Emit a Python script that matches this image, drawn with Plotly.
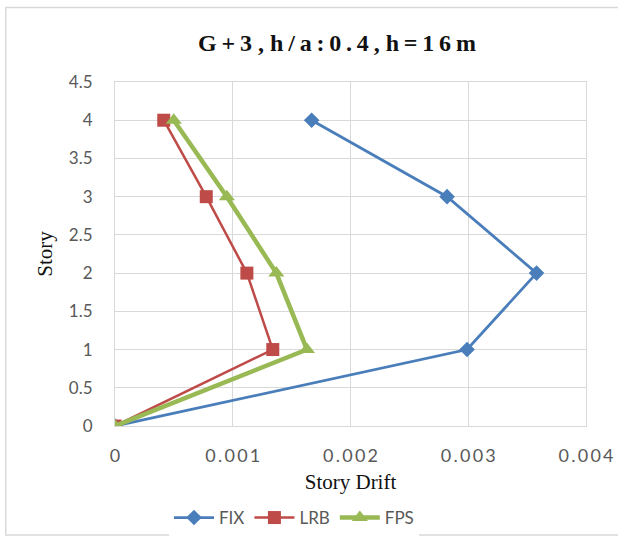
import plotly.graph_objects as go

# Story levels and inter-story drift for each base condition
stories = [0, 1, 2, 3, 4]
fix_drift = [0.0, 0.00299, 0.00358, 0.00282, 0.00167]
lrb_drift = [0.0, 0.00134, 0.00112, 0.000775, 0.000414]
fps_drift = [0.0, 0.00163, 0.00137, 0.00095, 0.000499]

x_ticks = [0, 0.001, 0.002, 0.003, 0.004]
x_tick_text = ["0", "0.001", "0.002", "0.003", "0.004"]
y_ticks = [0, 0.5, 1, 1.5, 2, 2.5, 3, 3.5, 4, 4.5]
y_tick_text = ["0", "0.5", "1", "1.5", "2", "2.5", "3", "3.5", "4", "4.5"]

title_text = "G+3 , h/a:0.4, h=16m"

THIN = "\u2009"


def spaced(s):
    """Widen text with thin spaces between neighbouring non-space characters."""
    out = s[0]
    for prev, ch in zip(s, s[1:]):
        if prev != " " and ch != " ":
            out += THIN
        out += ch
    return out


W, H = 618, 538
L, R, T, B = 114.5, 31.5, 82, 112
PW, PH = W - L - R, H - T - B

GRID = "#d9d9d9"
TICK_COLOR = "#595959"

fig = go.Figure()
fig.add_trace(go.Scatter(
    x=fix_drift, y=stories, name="FIX", mode="lines+markers",
    line=dict(color="#4a7ebb", width=2.8),
    marker=dict(symbol="diamond", size=12, color="#4a7ebb"),
))
fig.add_trace(go.Scatter(
    x=lrb_drift, y=stories, name="LRB", mode="lines+markers",
    line=dict(color="#be4b48", width=2.5),
    marker=dict(symbol="square", size=13, color="#be4b48"),
))
fig.add_trace(go.Scatter(
    x=fps_drift, y=stories, name="FPS", mode="lines+markers",
    line=dict(color="#98b954", width=4.5),
    marker=dict(symbol="triangle-up", size=14, color="#98b954"),
))


def px_x(px):
    return (px - L) / PW


def px_y(py):
    return (H - B - py) / PH


fig.update_layout(
    width=W, height=H,
    margin=dict(l=L, r=R, t=T, b=B, autoexpand=False),
    paper_bgcolor="white", plot_bgcolor="white",
    title=dict(
        text="<b>" + spaced(title_text) + "</b>",
        font=dict(family="Liberation Serif", size=24, color="#111111"),
        x=337 / W, xanchor="center", y=1 - 43 / H, yanchor="middle",
    ),
    xaxis=dict(
        range=[0, 0.004], tickvals=x_ticks,
        ticktext=[spaced(t) for t in x_tick_text],
        showgrid=True, gridcolor=GRID, gridwidth=1,
        zeroline=False, showline=True, linecolor=GRID, mirror=True, ticks="",
        ticklabelstandoff=13, automargin=False,
        tickfont=dict(family="Lato", size=18, color=TICK_COLOR),
        title=dict(text="Story Drift", standoff=9,
                   font=dict(family="Liberation Serif", size=21, color="#111111")),
    ),
    yaxis=dict(
        range=[0, 4.5], tickvals=y_ticks, ticktext=y_tick_text,
        showgrid=True, gridcolor=GRID, gridwidth=1,
        zeroline=False, showline=True, linecolor=GRID, mirror=True, ticks="",
        ticklabelstandoff=18, automargin=False,
        tickfont=dict(family="Lato", size=17, color=TICK_COLOR),
        title=dict(text="Story", standoff=10,
                   font=dict(family="Liberation Serif", size=21, color="#111111")),
    ),
    legend=dict(
        orientation="h", x=294 / W, xref="container", xanchor="center",
        y=1 - 518 / H, yref="container", yanchor="middle",
        font=dict(family="Lato", size=17, color=TICK_COLOR),
        itemwidth=40, tracegroupgap=0,
    ),
    showlegend=True,
    shapes=[dict(
        type="rect", xref="paper", yref="paper",
        x0=px_x(5), x1=px_x(640), y0=px_y(535), y1=px_y(7.5),
        line=dict(color=GRID, width=1.5), fillcolor="rgba(0,0,0,0)",
        layer="below",
    )],
)

fig.write_html("out.html")
